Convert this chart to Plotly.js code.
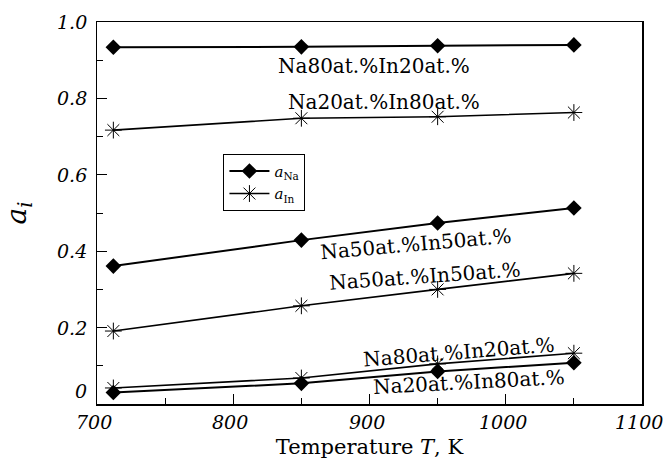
<!DOCTYPE html>
<html>
<head>
<meta charset="utf-8">
<script src="https://cdn.plot.ly/plotly-3.0.1.min.js"></script>
<style>
html,body{margin:0;padding:0;background:#fff;}
#chart{width:667px;height:466px;}
</style>
</head>
<body>
<div id="chart"></div>
<script>
const temperature = [712, 850, 950, 1050];

// activity of Na (diamonds)
const aNa_Na80In20 = [0.934, 0.935, 0.938, 0.940];
const aNa_Na50In50 = [0.361, 0.429, 0.474, 0.513];
const aNa_Na20In80 = [0.030, 0.054, 0.085, 0.108];

// activity of In (asterisks)
const aIn_Na20In80 = [0.717, 0.748, 0.752, 0.763];
const aIn_Na50In50 = [0.191, 0.257, 0.300, 0.342];
const aIn_Na80In20 = [0.042, 0.068, 0.105, 0.133];

const xTickVals = [700, 800, 900, 1000, 1100];
const xTickText = ["700", "800", "900", "1000", "1100"];
const yTickVals = [0, 0.2, 0.4, 0.6, 0.8, 1.0];
const yTickText = ["0", "0.2", "0.4", "0.6", "0.8", "1.0"];

const labels = [
  {text: "Na80at.%In20at.%", x: 903, y: 0.885, angle: 0},
  {text: "Na20at.%In80at.%", x: 911, y: 0.791, angle: 0},
  {text: "Na50at.%In50at.%", x: 934, y: 0.419, angle: -5},
  {text: "Na50at.%In50at.%", x: 941, y: 0.335, angle: -4},
  {text: "Na80at.%In20at.%", x: 966, y: 0.137, angle: -4.5},
  {text: "Na20at.%In80at.%", x: 973, y: 0.058, angle: -3}
];

const serif = "DejaVu Serif";

function naTrace(y, show) {
  return {x: temperature, y: y, mode: "lines+markers", name: "<i>a</i><sub>Na</sub>",
    legendgroup: "na", showlegend: show,
    line: {color: "#000", width: 2},
    marker: {symbol: "diamond", size: 12, color: "#000"}};
}
function inTrace(y, show) {
  return {x: temperature, y: y, mode: "lines+markers", name: "<i>a</i><sub>In</sub>",
    legendgroup: "in", showlegend: show,
    line: {color: "#000", width: 1.6},
    marker: {symbol: "asterisk-open", size: 14, color: "#000", line: {color: "#000", width: 1}}};
}

const data = [
  naTrace(aNa_Na80In20, true),
  naTrace(aNa_Na50In50, false),
  naTrace(aNa_Na20In80, false),
  inTrace(aIn_Na20In80, true),
  inTrace(aIn_Na50In50, false),
  inTrace(aIn_Na80In20, false)
];

const tickFont = {family: serif, size: 19, color: "#000", style: "italic"};

const annotations = labels.map(l => ({
  x: l.x, y: l.y, xref: "x", yref: "y", text: l.text, showarrow: false,
  textangle: l.angle, font: {family: serif, size: 20, color: "#000", style: "normal"}
}));
// italic tick labels, placed at the axis tick values
xTickVals.forEach((v, i) => annotations.push({
  x: v, y: 0, xref: "x", yref: "paper", text: xTickText[i],
  showarrow: false, xanchor: "center", yanchor: "top", yshift: -5, xshift: -3,
  font: tickFont
}));
yTickVals.forEach((v, i) => annotations.push({
  x: 0, y: v, xref: "paper", yref: "y", text: yTickText[i],
  showarrow: false, xanchor: "right", yanchor: v === 0 ? "bottom" : "middle",
  xshift: -8, yshift: 0,
  font: tickFont
}));

const layout = {
  width: 667, height: 466,
  margin: {l: 97, r: 25, t: 22, b: 62},
  paper_bgcolor: "#fff", plot_bgcolor: "#fff",
  font: {family: serif, color: "#000", size: 18, style: "normal"},
  showlegend: true,
  legend: {x: 0.232, y: 0.655, xanchor: "left", yanchor: "top",
    bordercolor: "#000", borderwidth: 1, bgcolor: "#fff",
    font: {family: serif, size: 15}, tracegroupgap: 0, itemwidth: 40},
  xaxis: {
    range: [700, 1100], tickmode: "array", tickvals: xTickVals, showticklabels: false,
    ticks: "inside", ticklen: 10, tickwidth: 1, tickcolor: "#000",
    minor: {dtick: 50, tick0: 700, ticks: "inside", ticklen: 6, tickcolor: "#000"},
    showline: true, linecolor: "#000", linewidth: 1.5, mirror: true,
    showgrid: false, zeroline: false,
    title: {text: "Temperature <i>T</i>, K", font: {family: serif, size: 21}, standoff: 35}
  },
  yaxis: {
    range: [0, 1], tickmode: "array", tickvals: yTickVals, showticklabels: false,
    ticks: "inside", ticklen: 10, tickwidth: 1, tickcolor: "#000",
    minor: {dtick: 0.1, tick0: 0, ticks: "inside", ticklen: 6, tickcolor: "#000"},
    showline: true, linecolor: "#000", linewidth: 1.5, mirror: true,
    showgrid: false, zeroline: false,
    title: {text: "<i>a</i><sub><i>i</i></sub>", font: {family: serif, size: 28}, standoff: 60}
  },
  annotations: annotations
};

Plotly.newPlot("chart", data, layout, {displayModeBar: false, staticPlot: true});
</script>
</body>
</html>
